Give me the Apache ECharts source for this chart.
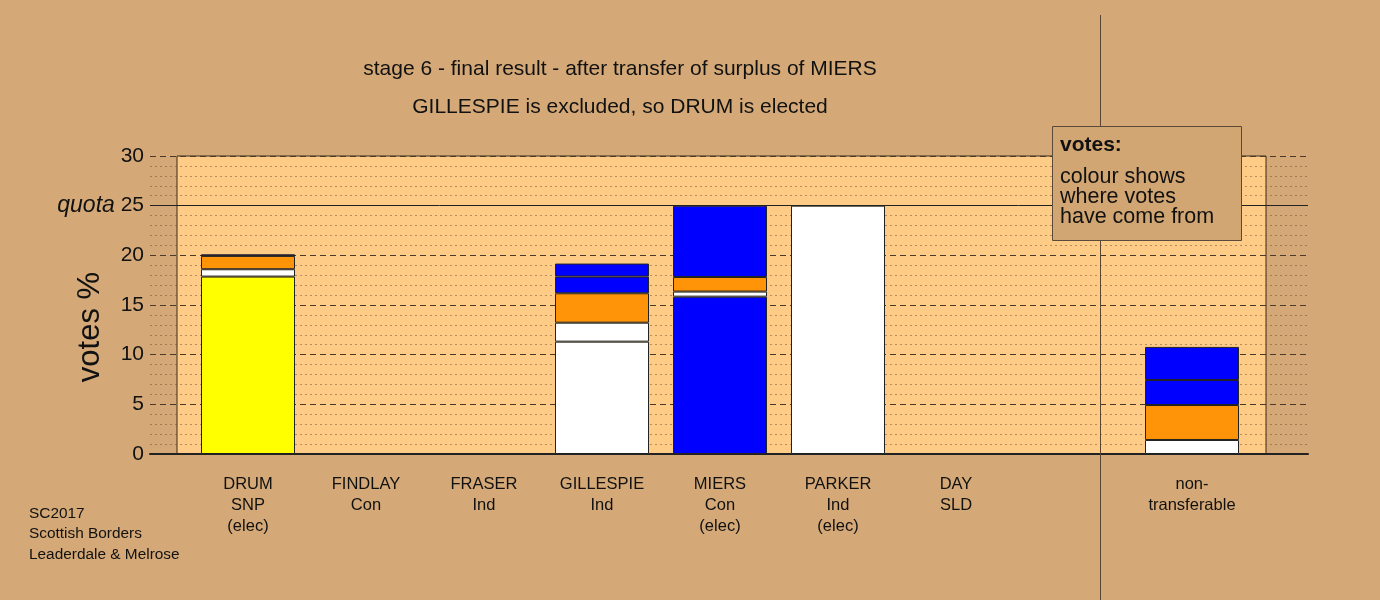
<!DOCTYPE html>
<html>
<head>
<meta charset="utf-8">
<script src="https://cdn.jsdelivr.net/npm/echarts@6/dist/echarts.min.js"></script>
<style>
html,body{margin:0;padding:0;background:#d4a977;}
#chart{width:1380px;height:600px;}
</style>
</head>
<body>
<div id="chart"></div>
<script>
const categories = ['DRUM\nSNP\n(elec)', 'FINDLAY\nCon', 'FRASER\nInd', 'GILLESPIE\nInd', 'MIERS\nCon\n(elec)', 'PARKER\nInd\n(elec)', 'DAY\nSLD', '', 'non-\ntransferable'];
const firstPrefs = [17.86, null, null, 11.31, 15.84, 25.0, null, null, null];
const firstPrefColours = ['#ffff00', '#0000ff', '#ffffff', '#ffffff', '#0000ff', '#ffffff', '#ff9408', '#ffffff', '#ffffff'];
const fromWhite = [0.74, null, null, 1.91, 0.51, null, null, null, 1.41];
const fromOrange = [1.34, null, null, 2.96, 1.47, null, null, null, 3.52];
const fromBlueA = [null, null, null, 1.68, 7.18, null, null, null, 2.52];
const fromBlueB = [0.16, null, null, 1.31, null, null, null, null, 3.33];
const stageColours = ['#ffffff', '#ff9408', '#0000ff', '#0000ff'];
const yTicks = [0, 5, 10, 15, 20, 25, 30];
const quota = 25;

const FONT = '"Liberation Sans", Arial, sans-serif';
const chart = echarts.init(document.getElementById('chart'));

const barCommon = {
  type: 'bar', stack: 'votes', xAxisIndex: 1, yAxisIndex: 1, barWidth: 94,
  itemStyle: { borderColor: '#222', borderWidth: 1 }, silent: true
};

chart.setOption({
  backgroundColor: '#d4a977',
  animation: false,
  textStyle: { fontFamily: FONT },
  title: [
    { text: 'stage 6 - final result - after transfer of surplus of MIERS', left: 615, top: 54, textAlign: 'center',
      textStyle: { fontSize: 21, fontWeight: 'normal', color: '#111', fontFamily: FONT } },
    { text: 'GILLESPIE is excluded, so DRUM is elected', left: 615, top: 92, textAlign: 'center',
      textStyle: { fontSize: 21, fontWeight: 'normal', color: '#111', fontFamily: FONT } }
  ],
  grid: [
    { left: 150, right: 72, top: 156, bottom: 146 },
    { left: 189, right: 129, top: 156, bottom: 146 }
  ],
  xAxis: [
    { type: 'value', gridIndex: 0, min: 0, max: 1, axisLabel: { show: false }, axisTick: { show: false },
      splitLine: { show: false }, axisLine: { show: true, onZero: false, lineStyle: { color: '#222', width: 2 } } },
    { type: 'category', gridIndex: 1, data: categories, axisLine: { show: false }, axisTick: { show: false },
      axisLabel: { interval: 0, margin: 20, fontSize: 16.5, lineHeight: 21, color: '#111', fontFamily: FONT } }
  ],
  yAxis: [
    { type: 'value', gridIndex: 0, min: 0, max: 30, interval: 5,
      axisLine: { show: false }, axisTick: { show: false },
      axisLabel: { fontSize: 21, color: '#111', margin: 6, fontFamily: FONT,
        formatter: v => (v === quota ? '{q|quota} ' + v : String(v)),
        rich: { q: { fontStyle: 'italic', fontSize: 23, color: '#111', fontFamily: FONT } } },
      splitLine: { show: true, lineStyle: { color: '#4a3a2a', width: 1, type: [6, 4] } },
      minorTick: { show: false, splitNumber: 5 },
      minorSplitLine: { show: true, lineStyle: { color: 'rgba(110,75,40,0.5)', width: 1, type: [2, 3] } }
    },
    { type: 'value', gridIndex: 1, min: 0, max: 30, interval: 5, show: false, splitLine: { show: false } }
  ],
  graphic: [
    { type: 'rect', z: -1, shape: { x: 177, y: 156, width: 1089, height: 298 },
      style: { fill: '#ffcc88', stroke: '#3a2a1a', lineWidth: 1 } },
    { type: 'line', z: 50, shape: { x1: 1100.5, y1: 15, x2: 1100.5, y2: 600 },
      style: { stroke: '#5a4530', lineWidth: 1 } },
    { type: 'rect', z: 100, shape: { x: 1052.5, y: 126.5, width: 189, height: 114 },
      style: { fill: '#d2a672', stroke: '#5a4a3a', lineWidth: 1 } },
    { type: 'text', z: 101, x: 1060, y: 145, style: { text: 'votes:', font: 'bold 21px ' + FONT, fill: '#111', textVerticalAlign: 'middle' } },
    { type: 'text', z: 101, x: 1060, y: 167, style: { text: 'colour shows\nwhere votes\nhave come from', font: '21.5px ' + FONT, lineHeight: 20, fill: '#111' } },
    { type: 'text', z: 101, x: 90, y: 327, rotation: Math.PI / 2,
      style: { text: 'votes %', font: '31px ' + FONT, fill: '#111', textAlign: 'center', textVerticalAlign: 'middle' } },
    { type: 'text', x: 29, y: 503, style: { text: 'SC2017\nScottish Borders\nLeaderdale & Melrose', font: '15.4px ' + FONT, lineHeight: 20.5, fill: '#111' } }
  ],
  series: [
    { type: 'line', xAxisIndex: 0, yAxisIndex: 0, data: [], silent: true,
      markLine: { silent: true, symbol: 'none', label: { show: false },
        lineStyle: { color: '#222', width: 1, type: 'solid' }, data: [{ yAxis: quota }] } },
    Object.assign({}, barCommon, { name: 'first preferences',
      data: firstPrefs.map((v, i) => ({ value: v, itemStyle: { color: firstPrefColours[i] } })) }),
    Object.assign({}, barCommon, { name: 'white', data: fromWhite, itemStyle: { color: stageColours[0], borderColor: '#222', borderWidth: 1 } }),
    Object.assign({}, barCommon, { name: 'orange', data: fromOrange, itemStyle: { color: stageColours[1], borderColor: '#222', borderWidth: 1 } }),
    Object.assign({}, barCommon, { name: 'blueA', data: fromBlueA, itemStyle: { color: stageColours[2], borderColor: '#222', borderWidth: 1 } }),
    Object.assign({}, barCommon, { name: 'blueB', data: fromBlueB, itemStyle: { color: stageColours[3], borderColor: '#222', borderWidth: 1 } })
  ]
});
</script>
</body>
</html>
